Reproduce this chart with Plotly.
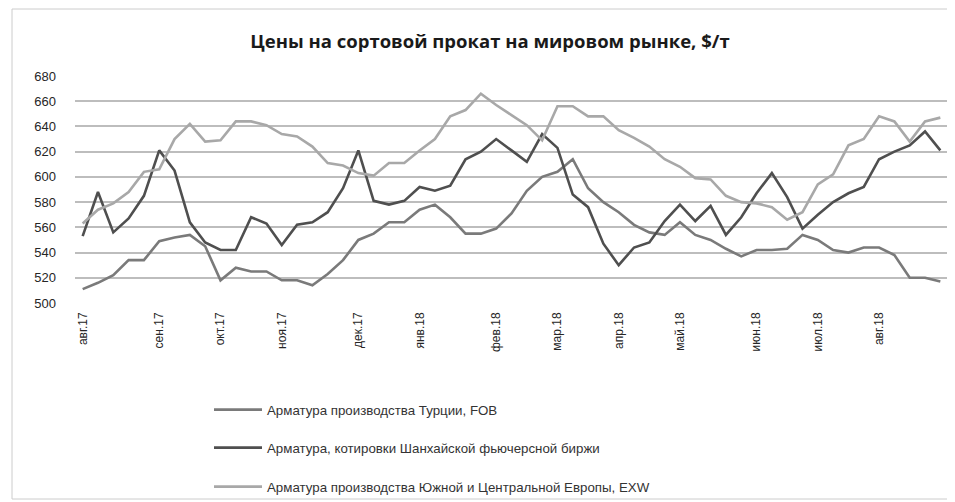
import plotly.graph_objects as go

# weekly observations, Aug 2017 - Aug 2018
weeks = list(range(57))
month_tick_index = [0, 5, 9, 13, 18, 22, 27, 31, 35, 39, 44, 48, 52]
month_tick_labels = ["авг.17", "сен.17", "окт.17", "ноя.17", "дек.17", "янв.18", "фев.18",
                     "мар.18", "апр.18", "май.18", "июн.18", "июл.18", "авг.18"]

turkey_fob = [511, 516, 522, 534, 534, 549, 552, 554, 545, 518, 528, 525, 525, 518, 518, 514,
              523, 534, 550, 555, 564, 564, 574, 578, 568, 555, 555, 559, 571, 589, 600, 604,
              614, 591, 580, 572, 562, 556, 554, 564, 554, 550, 543, 537, 542, 542, 543, 554,
              550, 542, 540, 544, 544, 538, 520, 520, 517]
shanghai = [553, 588, 556, 567, 585, 621, 605, 564, 548, 542, 542, 568, 563, 546, 562, 564,
            572, 591, 621, 581, 578, 581, 592, 589, 593, 614, 620, 630, 621, 612, 634, 623,
            586, 576, 547, 530, 544, 548, 565, 578, 565, 577, 554, 568, 587, 603, 584, 559,
            570, 580, 587, 592, 614, 620, 625, 636, 621]
europe_exw = [563, 574, 579, 588, 604, 606, 630, 642, 628, 629, 644, 644, 641, 634, 632, 624,
              611, 609, 603, 601, 611, 611, 621, 630, 648, 653, 666, 657, 649, 641, 629, 656,
              656, 648, 648, 637, 631, 624, 614, 608, 599, 598, 585, 580, 579, 576, 566, 572,
              594, 602, 625, 630, 648, 644, 628, 644, 647]

names = ["Арматура производства Турции, FOB",
         "Арматура, котировки Шанхайской фьючерсной биржи",
         "Арматура производства Южной и Центральной Европы, EXW"]
colors = ["#7a7a7a", "#4f4f4f", "#a8a8a8"]
series = [turkey_fob, shanghai, europe_exw]

# page has an 8px body margin, so the figure is laid out in page coords minus 8
OFF = 8
W, H = 955 - OFF, 502 - OFF
L, T = 75 - OFF, 76 - OFF
R = W - (948 - OFF)
B = H - (303 - OFF)
pw, ph = W - L - R, H - T - B

fig = go.Figure()
legends = ["legend", "legend2", "legend3"]
legend_y_px = [410 - OFF, 448 - OFF, 487 - OFF]
for s, n, c, lg in zip(series, names, colors, legends):
    fig.add_trace(go.Scatter(x=weeks, y=s, mode="lines", name=n,
                             line=dict(color=c, width=2.6), legend=lg))

font_main = "Liberation Sans, Arial, sans-serif"
leg_common = dict(bgcolor="rgba(0,0,0,0)", font=dict(family=font_main, size=13.3, color="#333333"),
                  xanchor="left", yanchor="middle", itemwidth=48)
layout_legends = {}
for lg, ypx in zip(legends, legend_y_px):
    d = dict(leg_common)
    d["x"] = (209 - OFF - L) / pw
    d["y"] = (H - B - ypx) / ph
    layout_legends[lg] = d

fig.update_layout(
    width=W, height=H,
    margin=dict(l=L, r=R, t=T, b=B, autoexpand=False),
    paper_bgcolor="white", plot_bgcolor="white",
    title=dict(text="<b>Цены на сортовой прокат на мировом рынке, $/т</b>",
               x=(490 - OFF) / W, xanchor="center", y=1 - (42 - OFF) / H, yanchor="middle",
               font=dict(family="Open Sans, sans-serif", size=18.5, color="#1a1a1a")),
    xaxis=dict(range=[-0.5, 56.5], tickmode="array", tickvals=month_tick_index,
               ticktext=month_tick_labels, tickangle=-90, showgrid=False, zeroline=False,
               showline=False, ticks="", automargin=False, ticklabelstandoff=6,
               tickfont=dict(family=font_main, size=12, color="#262626")),
    yaxis=dict(range=[500, 680], dtick=20, showgrid=True, gridcolor="#bdbdbd", gridwidth=1.8,
               zeroline=False, showline=False, ticks="", automargin=False, ticklabelstandoff=18,
               tickfont=dict(family=font_main, size=13, color="#262626")),
    showlegend=True,
    **layout_legends,
    shapes=[dict(type="rect", xref="paper", yref="paper",
                 x0=(12 - OFF - L) / pw, x1=(950 - OFF - L) / pw,
                 y0=(H - B - (499 - OFF)) / ph, y1=(H - B - (9 - OFF)) / ph,
                 line=dict(color="#cccccc", width=1), fillcolor="rgba(0,0,0,0)", layer="below")],
)

fig.write_html("out.html")
